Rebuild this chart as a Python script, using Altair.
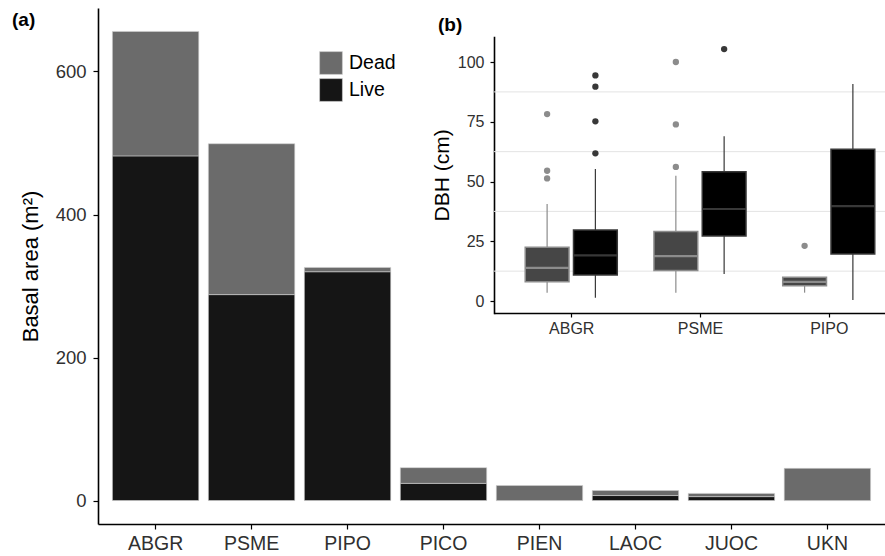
import altair as alt
import pandas as pd

FONT = "Liberation Sans"

# ---- panel (a): basal area by species ----
species = ["ABGR", "PSME", "PIPO", "PICO", "PIEN", "LAOC", "JUOC", "UKN"]
live_ba = [482, 288, 320, 24, 0, 7, 5.5, 0]
dead_ba = [174, 211, 6, 22, 21, 7, 4.5, 45]

# ---- panel (b): DBH boxplots ----
box_species = ["ABGR", "ABGR", "PSME", "PSME", "PIPO", "PIPO"]
box_status = ["Dead", "Live", "Dead", "Live", "Dead", "Live"]
box_lower = [3.5, 1.4, 3.5, 11.3, 3.5, 0.4]
box_q1 = [8.1, 10.9, 12.8, 27.2, 6.4, 19.7]
box_median = [13.9, 19.1, 18.8, 38.5, 8.0, 39.7]
box_q3 = [22.5, 29.7, 29.1, 54.1, 10.0, 63.5]
box_upper = [40.6, 55.2, 52.4, 68.9, 10.0, 90.8]

out_species = ["ABGR", "ABGR", "ABGR", "ABGR", "ABGR", "ABGR", "ABGR",
               "PSME", "PSME", "PSME", "PSME", "PIPO"]
out_status = ["Dead", "Dead", "Dead", "Live", "Live", "Live", "Live",
              "Dead", "Dead", "Dead", "Live", "Dead"]
out_dbh = [78.2, 54.5, 51.3, 94.4, 89.7, 75.2, 61.8, 100.0, 73.9, 56.1, 105.4, 23.1]

grid_minor = [12.5, 37.5, 62.5, 87.5]

# ---------------- build tables ----------------
ba_df = pd.DataFrame({
    "species": species * 2,
    "status": ["Live"] * len(species) + ["Dead"] * len(species),
    "ba": live_ba + dead_ba,
})
box_df = pd.DataFrame({
    "species": box_species, "status": box_status, "lower": box_lower,
    "q1": box_q1, "median": box_median, "q3": box_q3, "upper": box_upper,
})
out_df = pd.DataFrame({"species": out_species, "status": out_status, "dbh": out_dbh})
grid_df = pd.DataFrame({"g": grid_minor})

W, H = 787, 516

# ---------------- panel (a) ----------------
bars = alt.Chart(ba_df).transform_calculate(
    ord="datum.status == 'Live' ? 0 : 1"
).mark_bar(stroke="#d0d0d0", strokeWidth=0.6).encode(
    x=alt.X("species:N", sort=species,
            scale=alt.Scale(paddingInner=0.1, paddingOuter=0.15),
            axis=alt.Axis(title=None, labelAngle=0, labelFontSize=19.5, labelColor="#303030",
                          labelFont=FONT, labelPadding=5, tickSize=5, tickColor="black",
                          tickWidth=1.2, domainColor="black", domainWidth=1.6, grid=False)),
    y=alt.Y("ba:Q", stack="zero",
            scale=alt.Scale(domain=[-32.8, 688.8], nice=False, zero=False),
            axis=alt.Axis(title="Basal area (m²)", values=[0, 200, 400, 600], grid=False,
                          labelFontSize=18.5, labelColor="#303030", labelFont=FONT,
                          labelPadding=7, tickSize=5, tickColor="black", tickWidth=1.2,
                          domainColor="black", domainWidth=1.6, titleFont=FONT,
                          titleFontSize=22, titleFontWeight="normal", titleColor="black",
                          titlePadding=13)),
    color=alt.Color("status:N",
                    scale=alt.Scale(domain=["Dead", "Live"], range=["#6b6b6b", "#151515"]),
                    legend=alt.Legend(title=None, orient="none", legendX=221, legendY=43,
                                      symbolType="square", symbolSize=520,
                                      symbolStrokeColor="#d0d0d0", symbolStrokeWidth=0.6,
                                      labelFontSize=19.5, labelFont=FONT, labelColor="black",
                                      labelOffset=6, rowPadding=1, padding=0)),
    order=alt.Order("ord:Q"),
)

label_a = alt.Chart(pd.DataFrame({"t": ["(a)"]})).mark_text(
    align="left", baseline="middle", fontWeight="bold", fontSize=19, font=FONT, color="black"
).encode(text="t:N", x=alt.value(-86), y=alt.value(12))

label_b = alt.Chart(pd.DataFrame({"t": ["(b)"]})).mark_text(
    align="left", baseline="middle", fontWeight="bold", fontSize=19, font=FONT, color="black"
).encode(text="t:N", x=alt.value(340), y=alt.value(17))

main = alt.layer(bars, label_a, label_b)

# ---------------- panel (b) inset ----------------
XDOM = [0.4, 3.437]
XR = [396, 787]
YDOM = [-5.3, 110.8]
YR = [305.7, 28.2]

pos_expr = ("indexof(['ABGR','PSME','PIPO'], datum.species) + 1 + "
            "(datum.status == 'Dead' ? -0.1875 : 0.1875)")

xsc = alt.Scale(domain=XDOM, range=XR, nice=False, zero=False)
ysc = alt.Scale(domain=YDOM, range=YR, nice=False, zero=False)

x_axis = alt.Axis(orient="bottom", offset=-211, values=[1, 2, 3],
                  labelExpr="['', 'ABGR', 'PSME', 'PIPO'][datum.value]",
                  title=None, grid=False, labelFontSize=16, labelColor="#303030",
                  labelFont=FONT, labelPadding=3, tickSize=4, tickColor="black",
                  tickWidth=1.2, domainColor="black", domainWidth=1.6)
y_axis = alt.Axis(orient="left", offset=-396, values=[0, 25, 50, 75, 100], grid=False,
                  title="DBH (cm)", titleFont=FONT, titleFontSize=21,
                  titleFontWeight="normal", titleColor="black", titlePadding=5,
                  labelFontSize=16, labelColor="#303030", labelFont=FONT, labelPadding=6,
                  tickSize=4, tickColor="black", tickWidth=1.2, domainColor="black",
                  domainWidth=1.6)

stroke_sc = alt.Scale(domain=["Dead", "Live"], range=["#8c8c8c", "#383838"])
fill_sc = alt.Scale(domain=["Dead", "Live"], range=["#464646", "#000000"])
med_sc = alt.Scale(domain=["Dead", "Live"], range=["#8c8c8c", "#4a4a4a"])

grid = alt.Chart(grid_df).mark_rule(color="#e3e3e3", strokeWidth=1).encode(
    x=alt.X(datum=XDOM[0], type="quantitative", scale=xsc, axis=x_axis),
    x2=alt.X2(datum=XDOM[1]),
    y=alt.Y("g:Q", scale=ysc, axis=y_axis),
)

box_base = alt.Chart(box_df).transform_calculate(pos=pos_expr).transform_calculate(
    lo="datum.pos - 0.17", hi="datum.pos + 0.17")

whisk_lo = box_base.mark_rule(strokeWidth=1.2).encode(
    x=alt.X("pos:Q", scale=xsc, axis=x_axis),
    y=alt.Y("lower:Q", scale=ysc, axis=y_axis), y2="q1:Q",
    color=alt.Color("status:N", scale=stroke_sc, legend=None))
whisk_hi = box_base.mark_rule(strokeWidth=1.2).encode(
    x=alt.X("pos:Q", scale=xsc, axis=x_axis),
    y=alt.Y("q3:Q", scale=ysc, axis=y_axis), y2="upper:Q",
    color=alt.Color("status:N", scale=stroke_sc, legend=None))
boxes = box_base.mark_bar(strokeWidth=1.5).encode(
    x=alt.X("lo:Q", scale=xsc, axis=x_axis), x2="hi:Q",
    y=alt.Y("q1:Q", scale=ysc, axis=y_axis), y2="q3:Q",
    fill=alt.Fill("status:N", scale=fill_sc, legend=None),
    stroke=alt.Stroke("status:N", scale=stroke_sc, legend=None))
medians = box_base.mark_rule(strokeWidth=2.2).encode(
    x=alt.X("lo:Q", scale=xsc, axis=x_axis), x2="hi:Q",
    y=alt.Y("median:Q", scale=ysc, axis=y_axis),
    color=alt.Color("status:N", scale=med_sc, legend=None))
outliers = alt.Chart(out_df).transform_calculate(pos=pos_expr).mark_circle(
    size=40, opacity=1).encode(
    x=alt.X("pos:Q", scale=xsc, axis=x_axis),
    y=alt.Y("dbh:Q", scale=ysc, axis=y_axis),
    color=alt.Color("status:N", scale=stroke_sc, legend=None))

inset = alt.layer(grid, whisk_lo, whisk_hi, boxes, medians, outliers)

chart = alt.layer(main, inset).resolve_scale(
    x="independent", y="independent", color="independent",
    fill="independent", stroke="independent"
).properties(
    width=W, height=H,
    padding={"left": 98, "top": 8, "right": 0, "bottom": 32},
    autosize=alt.AutoSizeParams(type="none"),
    background="white",
).configure_view(stroke=None)

chart.save("out.html", embed_options={"renderer": "svg", "actions": False})
